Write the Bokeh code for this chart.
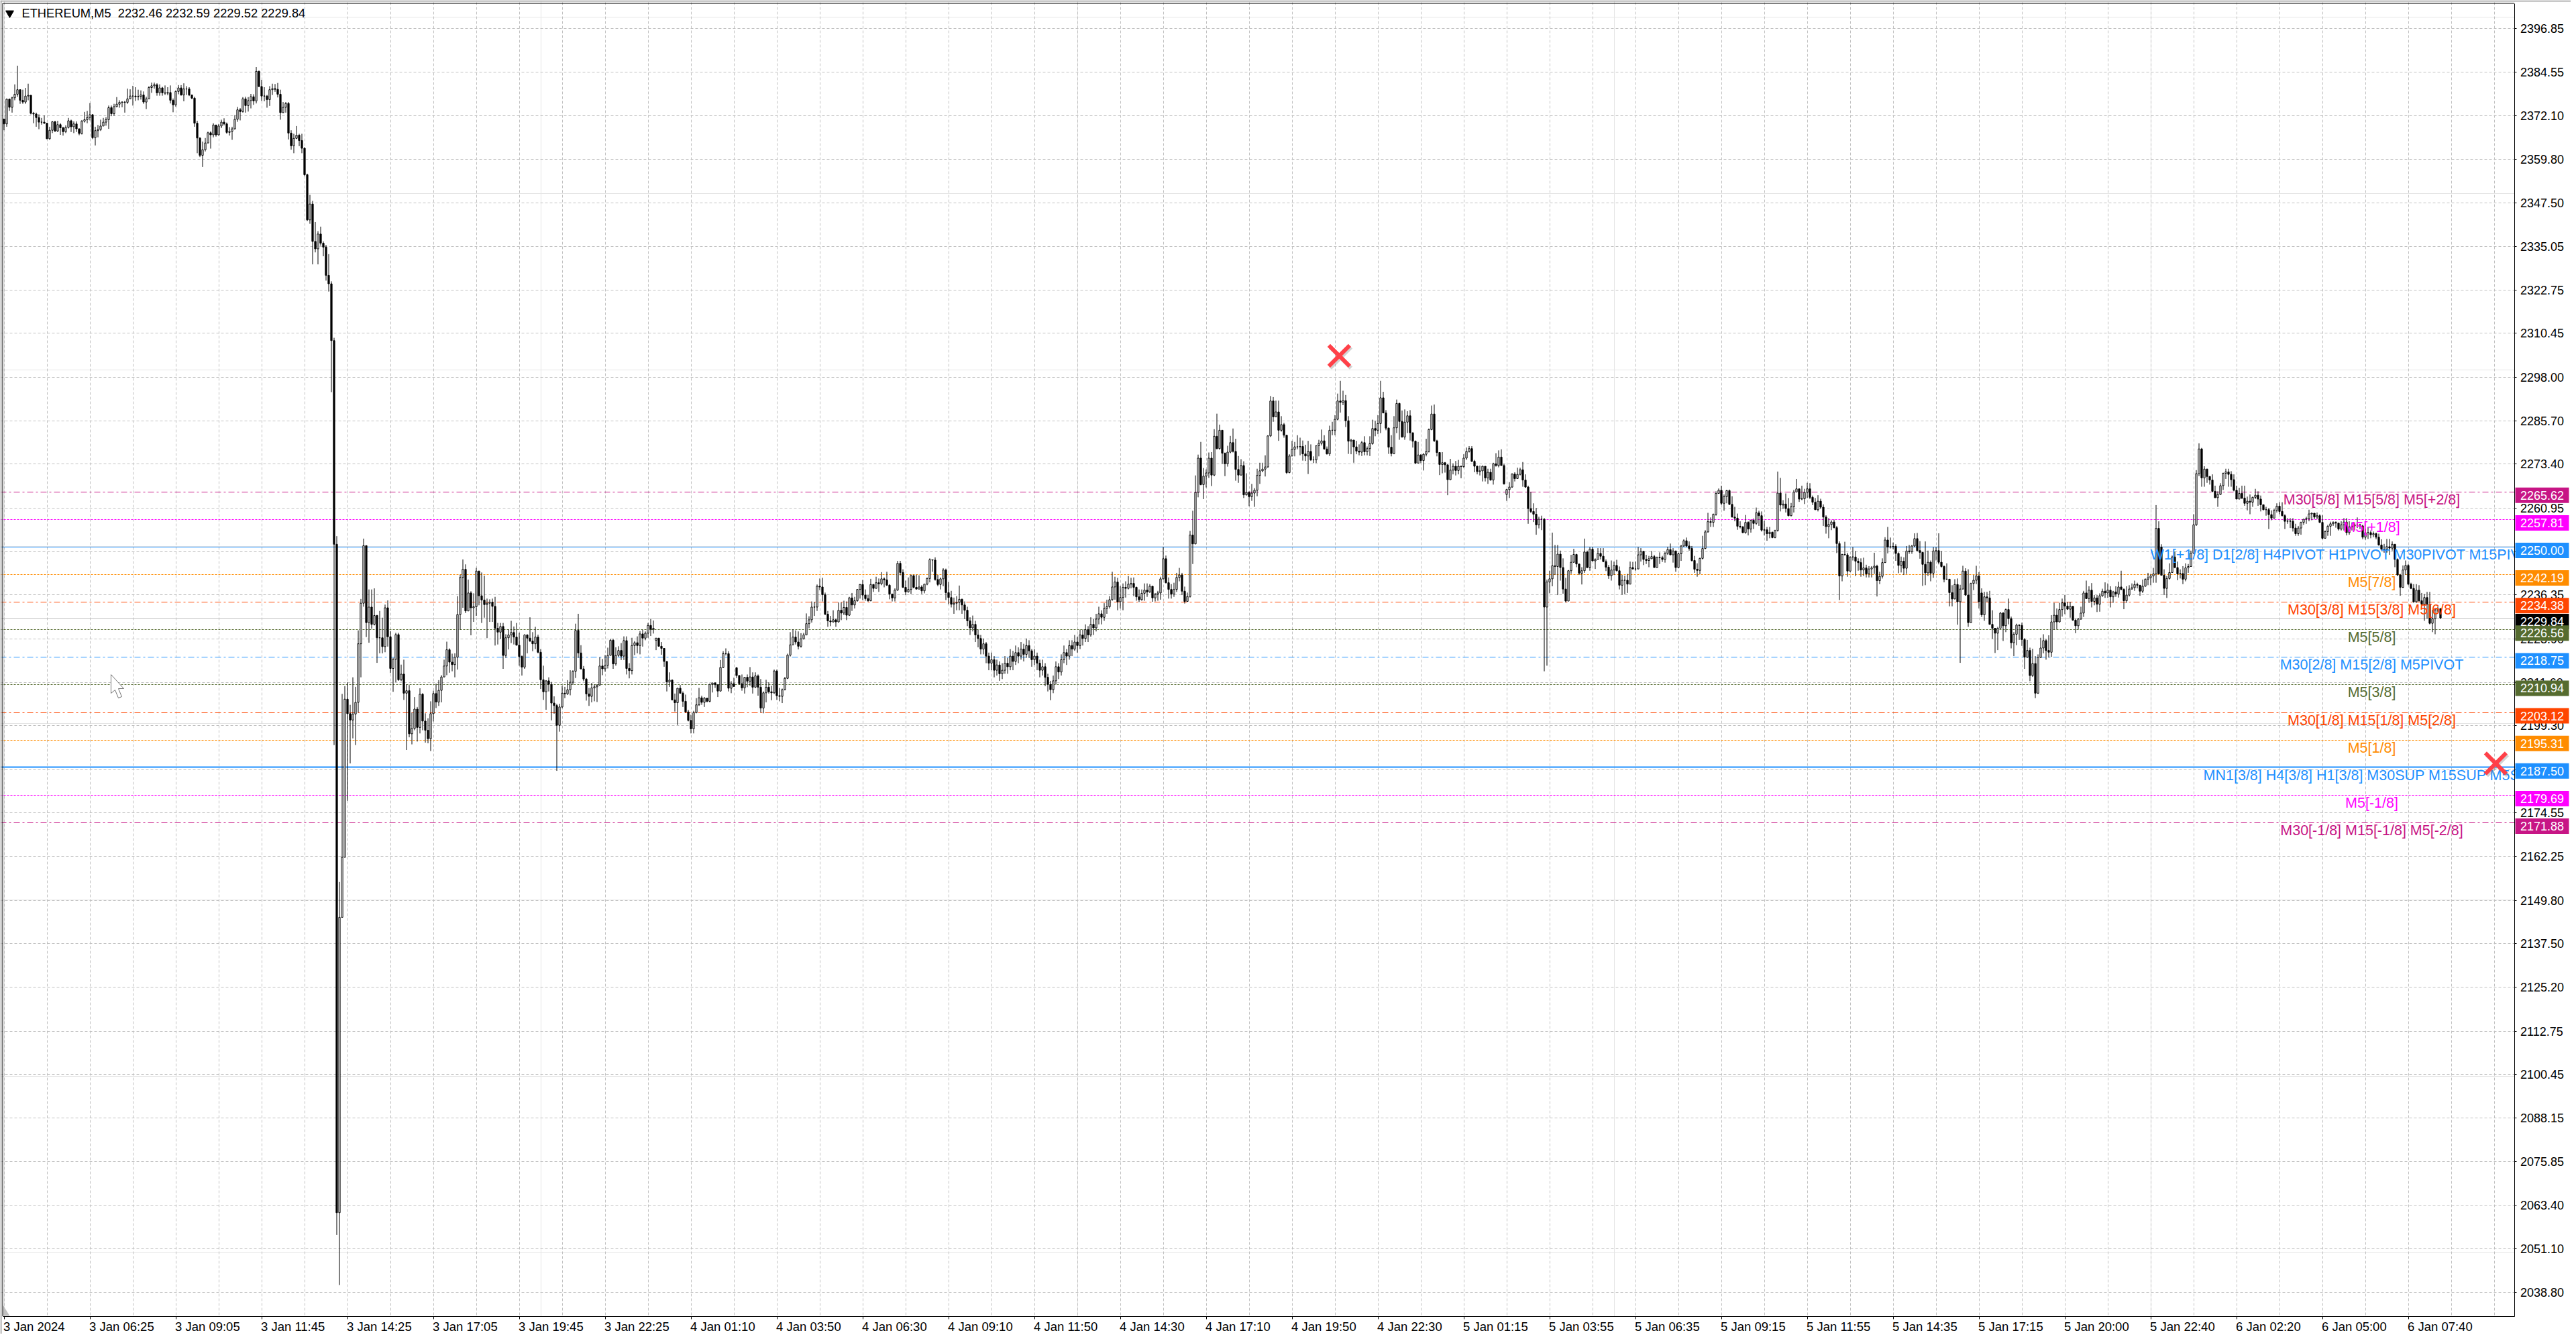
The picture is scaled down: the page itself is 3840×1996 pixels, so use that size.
from bokeh.plotting import figure
from bokeh.models import ColumnDataSource, FixedTicker, Grid, LinearAxis, PrintfTickFormatter, Range1d
from bokeh.core.properties import value
from bokeh.embed import file_html
from bokeh.resources import INLINE
import math

close = [
2369.8,2376.8,2374.5,2377.2,2378.2,2379.5,2376.5,2376,2377.7,2377.9,
2372.8,2372.6,2371.6,2370.3,2370.3,2370,2365.6,2368,2370.4,2367.8,
2369.6,2368.7,2367.6,2368.8,2370.7,2369,2369.8,2368.4,2367.1,2370.6,
2371,2371.6,2372.4,2365.9,2367.9,2368.2,2369.2,2370.3,2371,2374.4,
2372.7,2374.7,2375.4,2375.9,2376,2375.9,2376.9,2377.7,2377.7,2377.5,
2377.6,2378,2376,2376.9,2380.1,2380.6,2380.9,2378.6,2380,2378.6,
2378.5,2378.7,2376.5,2375.2,2379,2380,2378,2379.7,2379.7,2378,
2377.1,2370,2365.8,2360.9,2362.5,2364.4,2367.3,2366.7,2369.5,2366.7,
2369.2,2370.3,2369.8,2367.4,2367.7,2368.4,2371.1,2373.8,2373.3,2376.9,
2375,2376.4,2377.5,2376.3,2384.7,2380.4,2377.7,2377.7,2376.7,2379.5,
2379.8,2379.6,2378.2,2373,2374.5,2375.6,2367.2,2363.6,2365.7,2366.6,
2365.1,2362.9,2355.4,2342.6,2347.1,2336.5,2334.4,2338.6,2336,2334.9,
2326.9,2324.5,2308.4,2250.7,2061.3,2145,2162,2206.8,2202.7,2200.9,
2202.6,2205.9,2222.5,2234,2250.3,2228.5,2232.9,2228,2230.5,2224.2,
2224.2,2221.7,2232.7,2224.5,2215.5,2218.1,2225.1,2212.3,2213.9,2208.5,
2209.2,2197,2198.5,2204,2198.8,2208.2,2200.6,2198,2195.6,2202.7,
2208.4,2206,2209.3,2213.1,2216.2,2220.8,2217.3,2216.6,2218.7,2230.8,
2241.3,2243.6,2231.8,2236.9,2232.7,2233,2243.1,2236.1,2234.9,2233.6,
2234,2234.3,2233.1,2226.9,2225.8,2227.4,2219.2,2224.2,2225,2225.7,
2224.4,2222.1,2218.9,2215.9,2225,2224.1,2223.3,2222.5,2224.4,2220.1,
2212.3,2208.9,2212,2211,2205.7,2205,2199.4,2204.6,2208.5,2208.3,
2209.5,2211.6,2214.7,2226.3,2219.9,2215.4,2212.5,2208.3,2207.6,2210,
2210.3,2210.8,2216.2,2215.4,2216.4,2219.2,2223.5,2216.8,2219.2,2220.6,
2219,2223.4,2215.5,2214.9,2222,2222.8,2222,2225.3,2224.1,2225.5,
2227.7,2226.6,2226.9,2224.1,2221.8,2221.2,2217.5,2211.7,2212.2,2206.6,
2205.8,2209.9,2208.5,2206.2,2203.2,2200.8,2198.4,2203,2205.2,2207.2,
2205.9,2207.1,2206.2,2211,2211.4,2210.9,2209.1,2215.8,2219.7,2219.7,
2209.9,2211.2,2210.4,2213.5,2211.2,2210,2213,2211.9,2213.1,2210.2,
2213.4,2210.2,2204.3,2208.6,2210.2,2208.9,2208.6,2214.8,2207.8,2207.6,
2209.5,2212.7,2219.3,2222.2,2224.4,2223,2221.8,2223.9,2225,2228.2,
2229.3,2232.9,2232.9,2238.8,2238.6,2236.4,2230.9,2229,2228.7,2229.3,
2228.7,2232,2231.2,2232.8,2230.6,2235.5,2233.5,2234.7,2237.9,2239.3,
2236.3,2235.3,2234.7,2239.3,2238.2,2239.8,2239.5,2240.9,2240.6,2239.1,
2236.6,2235.5,2237.7,2245.3,2242.7,2238.5,2237.2,2237.9,2241.8,2238.5,
2238,2238.6,2237.5,2239.4,2241,2246.3,2246.2,2240.7,2239.3,2240.9,
2243.4,2237,2235.6,2233.7,2234,2234.2,2235.1,2233.5,2232,2229,
2227,2228,2225,2224,2221,2222.5,2219,2217,2218,2215,
2216.5,2214,2215,2217,2216,2219,2217.5,2220,2219,2221,
2219.5,2222,2220.5,2218,2219,2217,2215,2216,2213,2211,
2209.5,2212,2216,2214.5,2218,2220,2219,2222,2221,2223,
2222,2225,2224,2226.5,2225,2228,2227,2229.5,2231,2230,
2232.5,2233,2235,2238.6,2240,2234.4,2235.6,2238.5,2238.2,2239.4,
2239.6,2238.5,2235.8,2235,2236.8,2237.7,2237.2,2238.8,2235.5,2236.5,
2236.9,2240.9,2246.6,2239.8,2237.9,2236.6,2237.9,2241.3,2242,2237.4,
2234.5,2235.9,2253.3,2250.8,2265.4,2275.1,2267.6,2270,2270.9,2275.1,
2270.3,2281.3,2277.8,2283,2276.5,2273.5,2276.8,2279.5,2277,2271.9,
2270.3,2273,2264.7,2265.4,2264.2,2265.2,2266,2270.2,2271.5,2272,
2272.6,2281.4,2291.3,2286.8,2288.2,2283,2284.6,2281.6,2271,2275.7,
2277.6,2278.3,2278.3,2278.4,2276.3,2275.7,2277,2274.6,2274.6,2278.6,
2279.3,2280,2277.7,2276.3,2283,2283,2286.1,2291.3,2290.9,2291.4,
2285.7,2279.9,2280.2,2278.3,2277.1,2276.8,2279.5,2276.9,2277.8,2279.2,
2283.5,2283,2284.9,2292.2,2287.9,2283.6,2278.2,2276.4,2283.7,2290.6,
2285.5,2281.1,2285.3,2287.1,2282.3,2279.9,2273.7,2276,2274.4,2276.2,
2277,2283.2,2287.6,2280,2276.7,2273.3,2273.8,2273.2,2269,2271.7,
2272.8,2271.6,2272.8,2272.7,2275.1,2277,2277.8,2274.2,2272.8,2271.3,
2271.5,2272.8,2269.5,2271.1,2268.9,2273.5,2273,2275.4,2273,2267.8,
2266.2,2266.9,2270.6,2269.3,2270.5,2271.8,2268.9,2266.9,2260.8,2260,
2259.2,2256.2,2257.8,2257.8,2232.9,2240,2240.9,2244.6,2244.4,2247.9,
2244.1,2238,2234.6,2243.2,2245.6,2247.8,2245.1,2242.5,2243.2,2248.5,
2244.1,2249.3,2246,2246.4,2248.1,2247.3,2245.8,2244.2,2241.8,2243.4,
2244.7,2243.2,2239.1,2240.5,2240.5,2239.4,2244.1,2243.7,2243.7,2247.7,
2248.7,2246.4,2246.1,2246.6,2247.2,2244.1,2247,2246.9,2246.4,2248.1,
2249.2,2247.7,2248.8,2244.1,2248,2250.2,2251.7,2250.2,2249.5,2246.1,
2243.6,2243.3,2246.7,2249.5,2254.2,2257.1,2256.9,2259.2,2265.1,2266,
2262.3,2264.2,2265.9,2262,2258.4,2258.1,2255.8,2255.6,2254,2256.9,
2255,2257.5,2256.6,2259.6,2258.8,2254.7,2254.8,2253.7,2254.1,2252.6,
2254.6,2265.2,2261.8,2262.1,2260.8,2258.8,2261.3,2265.5,2266.4,2263.5,
2263.6,2265.4,2266.4,2264,2262.6,2260.5,2262.9,2261.2,2258.4,2255.7,
2256.3,2257,2255.4,2250.9,2241.7,2247.8,2247.7,2243.1,2247.1,2247.1,
2245.9,2245.5,2243.4,2244,2242.3,2243.7,2244,2244.5,2240.4,2241.6,
2245.5,2251.9,2249.9,2250,2250.1,2248.1,2244.7,2245.9,2243.9,2248.8,
2248.6,2250.2,2252.3,2248.9,2248.4,2245,2242.6,2245.6,2242.5,2248.8,
2248.9,2245.6,2244.4,2240.8,2240.8,2237,2235.2,2239.3,2234.4,2238,
2243.1,2236.3,2228.5,2239.6,2240.5,2241.7,2234.4,2230.7,2235.8,2235.5,
2228,2226.9,2225.5,2226.9,2231.2,2227.6,2232.2,2229.6,2222.8,2225.2,
2227.8,2227.7,2223.7,2218.7,2220.6,2213.5,2216.9,2208.5,2218.6,2221.3,
2223.4,2220.6,2220.1,2228.7,2230.6,2228.7,2232.2,2234.1,2233.2,2232.3,
2233.1,2229.2,2227.6,2229.5,2231.2,2236.9,2235.3,2237.7,2234.5,2235.5,
2233.7,2236.1,2237.4,2236.9,2237.7,2235.8,2237.2,2236.6,2238.6,2237.9,
2234.7,2236.3,2238,2238.4,2239.3,2239.1,2237.4,2238.8,2240.8,2241.2,
2241.7,2242.3,2255.2,2242.3,2241.9,2238.2,2241,2242.7,2247.1,2244.1,
2242.3,2242.4,2240.8,2244,2244.4,2248.2,2256.2,2270.7,2277.7,2269.5,
2272,2269.9,2268.9,2265.7,2263.9,2264.8,2267.3,2270.8,2271.2,2270.5,
2269,2266,2263.5,2265.1,2263.8,2262.3,2262.9,2262.6,2264,2264.6,
2263.5,2261.9,2260.5,2260.5,2259.1,2258.1,2260.3,2261.5,2260,2258.8,
2257.2,2257.3,2257.2,2255.3,2253.7,2255.3,2256.9,2257.8,2258,2259.3,
2259.5,2258.4,2258.8,2256.9,2252.4,2254.3,2255.8,2256.5,2256.9,2256.7,
2255,2256.2,2257,2254,2255.6,2255.9,2256.2,2256.2,2255.9,2252.7,
2254,2254,2253.4,2253.7,2252.7,2250.5,2249.3,2249.3,2250,2249.6,
2250.7,2246.4,2242,2238.5,2243.4,2244.7,2239.4,2238.2,2234.4,2237.7,
2234.7,2233.7,2235.6,2233.7,2228.3,2229.6,2232.1,2232.46,2229.84,
]

high = [
2371,2377,2377,2377.5,2381,2386.3,2379.5,2379.5,2380,2381.2,
2378,2373.2,2373,2372.5,2371.5,2372.2,2370,2369,2370.6,2370.7,
2370.7,2370,2369,2369.4,2371.5,2371,2370.5,2370.5,2368.5,2370.9,
2373.2,2373.5,2375.7,2372.6,2369,2369.5,2371,2371.5,2371.7,2375,
2375,2375.5,2377.4,2376.5,2376.2,2376.3,2379.8,2379.6,2380.6,2380.2,
2379.5,2379.3,2379,2377.5,2380.5,2381.5,2381.5,2381.3,2381,2380.3,
2380.7,2380.2,2380.7,2377,2379.3,2380.8,2380.8,2381.3,2380.5,2380.2,
2378,2377.5,2370.7,2366,2364.8,2365.8,2367.6,2367.7,2370,2369.5,
2369.8,2371,2371.4,2370.2,2368.9,2369,2372.3,2374.6,2374.3,2377.4,
2377.5,2377.4,2378.3,2378.2,2385.9,2384.9,2382.3,2380.2,2378,2380.5,
2381.2,2381.1,2381.4,2379.5,2376,2376,2376,2368,2367,2369.2,
2367,2367,2363.2,2355.7,2349.7,2348,2342,2339.4,2340.7,2336.5,
2335.5,2332.9,2325.2,2309.2,2253,2155,2208.3,2210.5,2211.6,2205.2,
2213,2210.3,2226.3,2235.2,2252.3,2250.4,2237.9,2237.9,2238.2,2230.7,
2231.8,2229.9,2233.6,2234.8,2226.1,2218.5,2225.6,2225.6,2216.6,2218,
2211,2210.8,2203,2207.4,2204.6,2209.9,2208.5,2202.8,2201.4,2206.2,
2209.2,2211.2,2212.2,2213.6,2218,2223.1,2221.2,2219.7,2219.8,2236,
2242.1,2246.4,2245,2240.7,2237.4,2236.8,2244,2243.2,2242.7,2241.8,
2235.3,2235.1,2235.3,2235.8,2228.4,2228.4,2228.4,2225.2,2226.6,2229,
2227.4,2228.4,2225.6,2219.2,2225.2,2225.2,2230,2225.8,2227.3,2225.1,
2221,2216.3,2212.2,2213,2211.7,2207.6,2205.5,2205.5,2210.6,2210.3,
2212.2,2215,2215,2228.2,2231,2222.1,2216.2,2212.8,2210,2211.4,
2211,2211,2218.7,2218.2,2219.3,2221.4,2223.9,2223.9,2221.5,2221.8,
2222.7,2224.6,2224.6,2217,2224.2,2223.3,2224.6,2226.1,2226.5,2226,
2228.4,2229.5,2229.1,2224.1,2224.1,2223,2221.2,2217.4,2214.4,2212.4,
2208.4,2210,2210.8,2209,2208.1,2203.8,2202.4,2203.5,2207.1,2210,
2207.8,2207.4,2207.1,2211.2,2211.4,2211.6,2210.9,2217.9,2220.4,2221.2,
2220.4,2211.9,2212.9,2215.9,2213.6,2213.8,2213.1,2213.8,2215.9,2214.4,
2214.4,2213.8,2212.5,2209,2212.3,2211.6,2210.6,2215.2,2215.2,2210,
2209.8,2213.1,2219.7,2225.8,2226.6,2226.3,2226,2225.5,2225.6,2231.1,
2230.3,2234.5,2234.4,2239.3,2241,2241.2,2237,2231.8,2230.4,2232,
2229.6,2234.2,2234.2,2234.7,2234.5,2235.8,2236.9,2235.8,2237.9,2239.4,
2240.6,2237.9,2236.4,2240.9,2239.4,2241.5,2241,2242.8,2241.3,2242.9,
2239.4,2236.7,2238.2,2246,2246,2243.6,2240.4,2241.3,2242.1,2242.1,
2242.1,2241.9,2239.1,2239.4,2241.3,2246.7,2246.3,2247,2242,2241.3,
2243.9,2243.8,2240,2237.5,2235.6,2236,2239,2235.3,2234.5,2233,
2230,2230.5,2229,2226.5,2225,2224,2223,2220,2220,2219,
2218,2217.5,2217,2219,2218.5,2221,2220.5,2222,2221.5,2223,
2222.5,2224,2223.5,2221,2221,2220,2218,2218,2217,2214,
2212,2213.5,2217.5,2217,2219.5,2222,2221,2223.5,2223.5,2225,
2224.5,2226.5,2226.5,2228,2227.5,2230,2229.5,2231,2233,2232,
2234,2235,2236,2242.9,2241.5,2241.2,2238.8,2239.6,2240.2,2241.7,
2241.2,2241.3,2238.7,2237.9,2237.9,2239.6,2239.6,2239.4,2238.9,2236.9,
2237.5,2241.5,2249.9,2247.5,2241.3,2239.4,2239.8,2242.6,2244,2242.6,
2238.7,2237,2254.5,2260.2,2270.2,2276.1,2279.7,2272.3,2271.9,2276.7,
2276.8,2283.3,2287.7,2284.6,2283,2276.7,2278.6,2281.4,2283.5,2280.6,
2275.7,2274.8,2274.2,2270.8,2265.7,2267.8,2266.6,2272.1,2273.8,2273.8,
2275.9,2281.6,2292.7,2292.4,2291.4,2291.4,2287,2285.1,2281.6,2276.2,
2280,2279.7,2281.6,2280.9,2280.1,2278.9,2280,2279,2275.6,2278.7,
2280.3,2283.2,2281.6,2278.4,2284.3,2285.4,2287.3,2293.4,2297,2294.2,
2293,2287,2280.6,2280.3,2280,2279,2280,2281.3,2278.4,2281.3,
2286,2285.7,2287.3,2297,2293.9,2288.7,2283.8,2281.6,2287,2291.7,
2290.8,2288.6,2288.9,2288.4,2288.7,2282.2,2280.1,2279.7,2276.2,2276.5,
2280.6,2283.5,2290,2290.3,2280.3,2276.8,2276.8,2274,2273.3,2274.9,
2273.6,2274.3,2274.6,2273,2276.2,2278.1,2278.5,2278.5,2274.6,2273,
2273,2273,2272.8,2272.1,2272.1,2273.8,2276.5,2277.3,2277.6,2273.5,
2266.4,2268.3,2270.8,2271.1,2272.4,2272.4,2274,2270.5,2267.3,2265.5,
2262.3,2261,2258.5,2258.8,2258.1,2240.7,2243.2,2254,2250.5,2250.5,
2248.9,2246.7,2241.2,2243.4,2247.7,2249.4,2248,2245.1,2244.2,2252.3,
2248.9,2249.9,2249.9,2246.7,2249.6,2249.6,2249.6,2246.4,2244.8,2246.1,
2245.8,2246.3,2244.4,2242,2241.8,2242.3,2245.8,2245.7,2245.8,2249.9,
2249.6,2248.8,2247.7,2247.4,2248.8,2247.7,2247.2,2248.4,2247.4,2248.6,
2250,2250.9,2249.6,2248.9,2248.3,2250.5,2252.1,2252.6,2251.5,2250.2,
2247.4,2245.3,2246.9,2253.1,2254.7,2259.6,2258.3,2259.4,2265.7,2266.5,
2267.3,2264.8,2266.1,2266.2,2264.3,2261.3,2259.4,2257.2,2255.9,2259,
2257.2,2257.7,2258,2261.1,2260.2,2260,2257.3,2255.6,2255.6,2254.3,
2254.8,2271.3,2269.5,2263.2,2265.1,2263.8,2262.4,2266.1,2269.2,2266.4,
2267.3,2266.4,2268.1,2268,2264.5,2263.8,2264.6,2263.6,2262,2258.9,
2258.1,2257.5,2257.7,2255.9,2251.5,2248,2251.4,2248.3,2247.2,2249.9,
2248.8,2246.7,2246.7,2246.9,2244.9,2244.5,2244.5,2248.3,2244.9,2242.9,
2246.7,2252.7,2255.6,2252.6,2251.2,2250.7,2248.4,2247.2,2247,2250.2,
2250.5,2250.5,2253.8,2253.9,2251.6,2248.4,2251.5,2248.9,2246.1,2249.9,
2249.9,2253.8,2248.8,2244.7,2245.3,2240.7,2239.1,2240.8,2241,2239.2,
2244.6,2243.9,2243.6,2239.8,2242,2244.6,2242.8,2238.2,2237.2,2237.2,
2237.5,2232,2226.8,2227.3,2231.5,2231.5,2232.5,2235.3,2230.2,2225.8,
2228.2,2228,2228.5,2224.1,2223.6,2221.4,2221.1,2219,2219.5,2224.2,
2225.2,2223.9,2224.9,2230.6,2234.1,2232.5,2234.1,2235.3,2236.3,2234.4,
2234.4,2233.2,2229.6,2229.8,2233,2237.5,2240.4,2238.8,2239.7,2236.3,
2236.3,2236.8,2238.1,2239.9,2239.6,2238.8,2237.5,2238.8,2240.1,2243.2,
2238.2,2238.8,2239.1,2239.6,2240.4,2239.8,2239.1,2240.7,2241,2242.6,
2242.3,2244,2261.8,2257.2,2250.7,2243.6,2241.7,2245.3,2247.5,2248.6,
2245.8,2243.6,2244.5,2245.3,2245.1,2248.9,2259.2,2271.7,2279.3,2278,
2272.8,2272.1,2270,2270.5,2267.3,2265.7,2268,2271,2272.1,2272.1,
2271.4,2270.5,2267.3,2266.7,2267.3,2267.3,2264.2,2264.8,2264.2,2266.4,
2265.7,2264.5,2261.9,2261.3,2261,2260.3,2260.7,2262.3,2262.6,2262.6,
2259.2,2258.1,2258.1,2258.1,2256.5,2255.9,2257.1,2257.5,2258.5,2260.5,
2259.7,2259.4,2259.7,2259.2,2258.9,2254.6,2256.2,2257.1,2257.2,2257.2,
2256.7,2257.2,2258.1,2258.1,2257.2,2256.9,2256.9,2258.3,2256.5,2256.2,
2255,2255.6,2254.6,2254.3,2254,2253.7,2252.1,2250.8,2252.2,2252.2,
2251.5,2250.2,2246.7,2242.3,2244.7,2246.1,2245.1,2239.8,2239.4,2239.4,
2239.1,2236.9,2236.6,2237.2,2237.2,2232.1,2232.5,2233,2232.59,
]

low = [
2368,2369,2373.5,2373,2376.5,2377.5,2375.5,2375.5,2375.5,2376.5,
2372.5,2370,2369,2368.3,2369.6,2369.8,2365.5,2365.3,2367.2,2367.5,
2367.5,2366.7,2366.5,2367.2,2368.5,2367.5,2367.2,2367.5,2366.6,2366.8,
2370.2,2370,2370.8,2365.5,2363.7,2366,2367.8,2369.2,2369.3,2368.4,
2372,2372.1,2374.5,2374.4,2374.5,2373,2375.5,2376.8,2375,2376.3,
2376.5,2376.7,2375.5,2374,2376.8,2378.6,2379.8,2377.8,2377.8,2377.8,
2378,2377.9,2375.6,2373.1,2374.7,2378.2,2377.8,2376.2,2378,2377.7,
2376.8,2369,2361.5,2360.4,2357.6,2362,2364.4,2362.8,2366,2366.2,
2366.5,2368.6,2369.4,2367,2366.5,2365.3,2368.2,2370.4,2370.8,2373,
2373,2373.3,2374.2,2375.2,2375.6,2380.2,2376.3,2376.2,2374.4,2374.9,
2378,2378.9,2377.3,2371,2372.9,2373,2365.4,2362.5,2361.5,2365.5,
2363.5,2361.5,2355,2342.3,2341.5,2330,2333.4,2330,2335.3,2332.3,
2325.4,2322.3,2293.8,2193.8,2055,2040.8,2158,2163,2178,2188.6,
2195.7,2193.8,2203,2213,2233,2224.4,2222.8,2226.8,2227.7,2217.1,
2219.8,2219.8,2220.1,2221.7,2214.2,2208.9,2211.6,2212,2211.9,2206.6,
2192.4,2196,2194,2198,2194.8,2197.1,2198,2194.5,2194.3,2192.1,
2200.5,2204.3,2204.9,2205.9,2213.6,2213.6,2214.3,2214.7,2213,2215.2,
2226.5,2232.7,2231.2,2231.8,2224.9,2228.7,2230.4,2233.4,2228.4,2229.9,
2224.1,2228.7,2228.7,2222,2222.3,2223.9,2215.4,2218.5,2220.9,2222.7,
2222.3,2222,2216.3,2213.5,2215.4,2219.8,2223,2220.4,2221,2219.8,
2209.7,2206.6,2203.8,2209,2200.8,2202.7,2186.5,2197.6,2204.3,2207.1,
2208,2207.9,2210.9,2212.8,2218.5,2215.2,2211.9,2206.4,2204.9,2205.9,
2206.2,2206,2210.6,2213.6,2214.6,2215.5,2219.2,2215.4,2216.3,2218.8,
2217.9,2217.9,2213.8,2212.7,2213.8,2219.3,2219.8,2219.5,2221.7,2223.5,
2224.2,2224.7,2225.4,2220.7,2221.7,2219.4,2216,2209,2210.3,2206.6,
2203.3,2199.5,2208.4,2204.6,2203,2200.5,2197.1,2197.1,2202.8,2204.9,
2205.2,2204.6,2205.9,2205.9,2208.7,2210,2207.4,2209,2215.6,2219.2,
2209,2208.5,2210.4,2212.8,2210.9,2209.2,2208.4,2210.2,2210.6,2208.4,
2210,2207.8,2203,2202.8,2205.9,2208.4,2206.5,2208.3,2206.6,2206.2,
2205.7,2209.3,2212.5,2218.9,2222.2,2222.3,2220.9,2221.4,2223.7,2224.9,
2226.9,2228.5,2230.4,2231.8,2237.7,2234.5,2230.6,2227.3,2227.5,2228.5,
2227.3,2228.5,2229.2,2230.6,2229.2,2230.4,2231.8,2232.5,2234.4,2235.3,
2234.9,2234.7,2234.4,2234.5,2237.2,2238.2,2237.2,2239.1,2238.5,2238.9,
2235.1,2234.5,2234.5,2237.5,2241.9,2238.3,2236.3,2237,2236.6,2238.2,
2237.9,2237.9,2236.6,2236.8,2239.1,2239.9,2242.9,2240.4,2238.8,2237.9,
2238.8,2234.9,2233.7,2232.8,2231,2232,2232,2231,2229.5,2227.5,
2225,2226,2223,2221.5,2219.5,2219.5,2217,2215,2215,2213,
2213.5,2212,2212.5,2214,2214,2215,2215,2216.5,2217,2218,
2217.5,2218.5,2218.5,2216,2216.5,2215,2213,2213.5,2210.5,2209,
2206.5,2208.5,2211,2212.5,2213.5,2217,2216.5,2218,2219,2220.5,
2220,2221,2222,2223,2223,2224.5,2225,2226,2228,2228,
2229,2231,2232.5,2234.7,2235,2232,2232.5,2232,2235.6,2237.9,
2238.2,2236,2234.7,2234.3,2234.7,2234.7,2235.8,2236.9,2234.4,2234.5,
2234.7,2235,2240.7,2239.6,2235.3,2235.3,2235.8,2237.2,2240.2,2236.3,
2233.9,2234.4,2235.6,2245.1,2250.7,2264,2267.4,2263.5,2266.8,2269.5,
2267.2,2270,2277.6,2277.5,2273.5,2270,2272.7,2276.5,2276.7,2268.7,
2268.1,2270.2,2263.8,2264.5,2261.5,2263,2261.3,2264.3,2267.8,2271.1,
2269.9,2272.4,2281.1,2285.4,2286.8,2280,2282.6,2280.9,2270.6,2270.8,
2275.6,2275.6,2277.6,2275.9,2274.4,2274.3,2270.6,2274.3,2273.7,2273.7,
2275.6,2278.7,2277.5,2276.1,2275.7,2281.6,2281.6,2285.8,2288,2290.1,
2283.9,2276.3,2276.2,2273.8,2276.2,2275.9,2275.7,2275.9,2275.9,2275.7,
2278.9,2281.3,2281.9,2282.2,2287.9,2283,2276.3,2275.6,2276.2,2282.2,
2280.3,2280.9,2280.3,2282.2,2280.1,2278.1,2273.5,2273.7,2273.7,2271.6,
2275.6,2276.7,2283,2279.7,2275.6,2270.3,2270.8,2271,2264.6,2268.9,
2270.5,2270.2,2270.5,2269.4,2272.3,2274.6,2276.7,2274,2271.1,2270.5,
2270.2,2268.5,2268.5,2267.8,2268.7,2267.6,2272.7,2272.5,2273,2267.6,
2263,2263.8,2266.7,2268.5,2269.2,2270.2,2267,2266.7,2256.5,2259.5,
2257,2253.4,2255.2,2254.7,2214.7,2216.3,2236.8,2238.8,2242,2236.3,
2240.4,2236.7,2234.2,2234.6,2242.3,2245.5,2244.2,2242,2239.3,2242.6,
2243.9,2243.2,2245.8,2243.7,2246.4,2246.4,2245.6,2243.1,2240.9,2240.4,
2242,2243,2237.9,2236.4,2236.5,2236.9,2239.8,2243.6,2243.2,2243.7,
2245.8,2244.8,2245.1,2244.2,2246.5,2244.1,2244.1,2245.1,2245.7,2245.5,
2247.7,2247.6,2245.5,2242.9,2243.9,2246,2250,2249.9,2248.9,2245.8,
2242.6,2241.5,2242.2,2246.4,2249.3,2254,2255.6,2255.6,2258.8,2265.1,
2261.8,2260.2,2262.3,2261.8,2258.3,2257.2,2254.8,2255.2,2253.8,2253.7,
2253.2,2254,2255,2256.2,2255.9,2254.3,2253.2,2251.7,2252.4,2252.4,
2252.4,2254.3,2260,2260.7,2259.7,2258.6,2258.6,2259.7,2265.4,2262.7,
2263.2,2262.1,2263.8,2263.5,2261.8,2260.4,2260,2260.7,2255.9,2253.7,
2252.4,2254.7,2255.2,2248.2,2234.9,2240.2,2247.5,2241.5,2242.9,2246.1,
2241.7,2243.2,2241.5,2241.7,2241.3,2241.3,2241.3,2242.3,2235.9,2239.4,
2241,2245.5,2248.1,2249.5,2249.3,2246,2242.5,2242.7,2242,2242.3,
2248,2248,2249.9,2248.8,2246.6,2238.9,2239.1,2241.7,2240.2,2241.2,
2246.1,2245,2244.1,2239.9,2240.6,2233.1,2233.1,2235.1,2227.9,2217.1,
2238.1,2236.1,2227.3,2228.5,2237.7,2239.4,2232.5,2230.1,2229,2234.4,
2227.9,2223.9,2219.9,2220.7,2226.8,2223.3,2225.8,2228,2221.2,2219,
2222.1,2223.6,2221.9,2215.4,2218.5,2211.9,2213.1,2207.1,2208.3,2218.5,
2219.8,2218,2218.6,2218.8,2226.5,2226.6,2228.5,2230.2,2230.9,2232.1,
2229.9,2229,2225.5,2226.6,2229.3,2230.1,2235.2,2234.1,2232.8,2233.4,
2231.5,2231.6,2235.8,2235.5,2235.5,2232.8,2234.1,2235.8,2235.6,2237.7,
2232.3,2234.1,2235.9,2237.9,2237.5,2238.2,2236.1,2236.9,2238.7,2239.1,
2239.1,2239.8,2239.8,2242.1,2241.9,2236.3,2235.5,2240.7,2242.6,2243.9,
2240.5,2241,2239.4,2240.2,2242.6,2244.4,2248,2255.9,2270,2267,
2267,2268.1,2267.6,2265.4,2263.8,2261.3,2264.7,2266.1,2269.2,2267,
2267,2265.7,2263.5,2263.5,2263.5,2261.6,2260.3,2259.2,2261.3,2263.5,
2261.6,2260,2260.3,2258.8,2255,2257.5,2258.1,2259.7,2259.2,2258.6,
2255,2256.5,2255.3,2254.3,2253.1,2253.1,2253.4,2256.2,2256.5,2257.2,
2257.5,2257.8,2257.8,2256.7,2252.1,2252.4,2253.1,2253.1,2255.9,2255.4,
2254.6,2254.6,2254.6,2253.2,2253.4,2254.6,2254.6,2255.3,2255,2252.1,
2252,2252.2,2252.4,2252.7,2252.1,2250.3,2248.9,2248.3,2248.3,2247.7,
2248.9,2244.2,2241.7,2236.1,2238.3,2242,2239.1,2238,2234.1,2234.1,
2234.4,2233.7,2229,2229.6,2228,2225.8,2225.2,2231.5,2229.52,
]

# Bars whose open does not sit on the previous close (visible gaps)
open_gaps = {0: 2371.2, 243: 2223.5, 273: 2215.7, 560: 2264.8, 737: 2236.9, 804: 2249.9, 908: 2232.46}

price_ticks = [2396.85, 2384.55, 2372.10, 2359.80, 2347.50, 2335.05, 2322.75, 2310.45, 2298.00, 2285.70,
               2273.40, 2260.95, 2248.65, 2236.35, 2223.90, 2211.60, 2199.30, 2186.85, 2174.55, 2162.25,
               2149.80, 2137.50, 2125.20, 2112.75, 2100.45, 2088.15, 2075.85, 2063.40, 2051.10, 2038.80]
time_labels = ["3 Jan 2024", "3 Jan 06:25", "3 Jan 09:05", "3 Jan 11:45", "3 Jan 14:25", "3 Jan 17:05", "3 Jan 19:45",
               "3 Jan 22:25", "4 Jan 01:10", "4 Jan 03:50", "4 Jan 06:30", "4 Jan 09:10", "4 Jan 11:50", "4 Jan 14:30",
               "4 Jan 17:10", "4 Jan 19:50", "4 Jan 22:30", "5 Jan 01:15", "5 Jan 03:55", "5 Jan 06:35", "5 Jan 09:15",
               "5 Jan 11:55", "5 Jan 14:35", "5 Jan 17:15", "5 Jan 20:00", "5 Jan 22:40", "6 Jan 02:20", "6 Jan 05:00",
               "6 Jan 07:40"]
time_positions = [32 * k for k in range(len(time_labels))]
level_prices = [2265.62, 2257.81, 2250.00, 2242.19, 2234.38, 2226.56, 2218.75, 2210.94, 2203.12, 2195.31, 2187.50, 2179.69, 2171.88]
level_names = ["M30[5/8] M15[5/8] M5[+2/8]", "M5[+1/8]", "W1[+1/8] D1[2/8] H4PIVOT H1PIVOT M30PIVOT M15PIVOT M5[8/8]",
               "M5[7/8]", "M30[3/8] M15[3/8] M5[6/8]", "M5[5/8]", "M30[2/8] M15[2/8] M5PIVOT", "M5[3/8]",
               "M30[1/8] M15[1/8] M5[2/8]", "M5[1/8]", "MN1[3/8] H4[3/8] H1[3/8] M30SUP M15SUP M5SUP", "M5[-1/8]",
               "M30[-1/8] M15[-1/8] M5[-2/8]"]
level_colors = ["#C71585", "#FF00FF", "#1E90FF", "#FF8C00", "#FF4500", "#556B2F", "#1E90FF", "#556B2F", "#FF4500", "#FF8C00",
                "#1E90FF", "#FF00FF", "#C71585"]
DASHDOT, DOT = "9 4 3 4", "3 2"
level_dashes = [DASHDOT, DOT, "solid", DOT, DASHDOT, DOT, DASHDOT, DOT, DASHDOT, DOT, "solid", DOT, DASHDOT]
level_widths = [1, 1, 1, 1, 1, 1, 1, 1, 1, 1, 2, 1, 1]
last_price = 2229.84
title_text = "ETHEREUM,M5\u00a0\u00a02232.46 2232.59 2229.52 2229.84"
cross_bar = [497.6, 928.6]
cross_price = [2304.1, 2188.6]

W, H = 3832, 1988
PX_PER_BAR, X0 = 4.0, 5.5
PX_PER_UNIT, Y_REF, PRICE_REF = 5.261, 1143.3, 2187.5
RIGHT, BOTTOM = 3747.5, 1961.5
def bar_at(px): return (px - X0) / PX_PER_BAR
def price_at(py): return PRICE_REF + (Y_REF - py) / PX_PER_UNIT
def px_of(price): return Y_REF - (price - PRICE_REF) * PX_PER_UNIT
def snapped(price, odd=True):
    return price_at(math.floor(px_of(price)) + (0.5 if odd else 0.0))

FONT = "Liberation Sans"
p = figure(width=W, height=H, output_backend="svg", toolbar_location=None, x_axis_location=None, y_axis_location=None,
           x_range=Range1d(bar_at(0), bar_at(W)), y_range=Range1d(price_at(H), price_at(0)),
           min_border=0, background_fill_color="white", border_fill_color="white", outline_line_color=None)

for dim, ticks in ((0, list(range(0, 936, 16))), (1, price_ticks)):
    p.add_layout(Grid(dimension=dim, ticker=FixedTicker(ticks=ticks), grid_line_color="#c0c0c0", grid_line_dash="4 3",
                      grid_line_width=1, level="underlay"))

p.hspan(y=[snapped(last_price)], line_color="#c0c0c0", line_width=1)
for y, c, d, w in zip(level_prices, level_colors, level_dashes, level_widths):
    p.hspan(y=[snapped(y, w == 1)], line_color=c, line_width=w, line_dash=d)

n = min(len(close), len(high), len(low))
opens = [open_gaps.get(i, close[i - 1] if i else close[0]) for i in range(n)]
idx = list(range(n))
tops = [max(opens[i], close[i]) for i in idx]
bots = [min(opens[i], close[i]) for i in idx]
p.segment(idx, [max(high[i], tops[i]) for i in idx], idx, [min(low[i], bots[i]) for i in idx], line_color="black", line_width=1)
up = [i for i in idx if close[i] >= opens[i]]
dn = [i for i in idx if close[i] < opens[i]]
p.vbar(x=up, top=[tops[i] for i in up], bottom=[bots[i] for i in up], width=0.55, fill_color="white", line_color="black", line_width=1)
p.vbar(x=dn, top=[tops[i] for i in dn], bottom=[bots[i] for i in dn], width=0.55, fill_color="black", line_color="black", line_width=1)

p.text(x=[bar_at(3535)] * len(level_prices), y=level_prices, text=level_names, text_color=level_colors,
       text_font=value(FONT), text_font_size="21.5px", text_align="center", text_baseline="middle", y_offset=12)

shadow_x = [x + 0.5 for x in cross_bar]
shadow_y = [y - 0.5 for y in cross_price]
p.scatter(x=shadow_x, y=shadow_y, marker="x", size=44, line_color="#808080", line_alpha=0.35, line_width=6)
p.scatter(x=cross_bar, y=cross_price, marker="x", size=44, line_color="#FF4048", line_width=6)

p.patch([bar_at(v) for v in (165, 165, 171, 176, 181, 176, 184)], [price_at(v) for v in (1005, 1033, 1028, 1040, 1038, 1026, 1026)],
        fill_color="white", line_color="#707070", line_width=1)
p.patch([bar_at(v) for v in (4, 4, 14)], [price_at(v) for v in (1945, 1961, 1961)], fill_color="#c0c0c0", line_color=None)

# White margins hide whatever passes beyond the price and time axes
p.quad(left=[bar_at(RIGHT)], right=[bar_at(W)], top=[price_at(0)], bottom=[price_at(H)], fill_color="white", line_color=None)
p.quad(left=[bar_at(0)], right=[bar_at(W)], top=[price_at(BOTTOM)], bottom=[price_at(H)], fill_color="white", line_color=None)
# Window frame
p.quad(left=[bar_at(0)], right=[bar_at(2)], top=[price_at(0)], bottom=[price_at(H)], fill_color="#a8a8a8", line_color=None)
p.quad(left=[bar_at(0)], right=[bar_at(W)], top=[price_at(0)], bottom=[price_at(2)], fill_color="#a8a8a8", line_color=None)
p.segment([bar_at(3.5)], [price_at(4.5)], [bar_at(3.5)], [price_at(BOTTOM)], line_color="black", line_width=1)
p.segment([bar_at(3.5)], [price_at(4.5)], [bar_at(RIGHT)], [price_at(4.5)], line_color="black", line_width=1)

yax = LinearAxis(fixed_location=bar_at(RIGHT), ticker=FixedTicker(ticks=price_ticks), formatter=PrintfTickFormatter(format="%.2f"),
                 bounds=(price_at(BOTTOM), price_at(4.5)), major_label_text_font=FONT, major_label_text_font_size="18px",
                 major_label_text_color="black", major_label_standoff=6, major_tick_in=0, major_tick_out=3,
                 minor_tick_line_color=None, axis_line_color="black")
p.add_layout(yax, "right")
xax = LinearAxis(fixed_location=price_at(BOTTOM), ticker=FixedTicker(ticks=time_positions),
                 major_label_overrides={t: "" for t in time_positions}, bounds=(bar_at(3.5), bar_at(RIGHT)),
                 major_tick_in=0, major_tick_out=4, minor_tick_line_color=None, axis_line_color="black")
p.add_layout(xax, "below")

src = ColumnDataSource(dict(x=time_positions, y=[price_at(1977)] * len(time_positions), t=time_labels))
p.text(x="x", y="y", text="t", source=src, text_font=value(FONT), text_font_size="18.5px", text_color="black",
       text_align="left", text_baseline="middle", x_offset=-1)

tag_prices = [last_price] + level_prices
tag_colors = ["black"] + level_colors
p.quad(left=[bar_at(3749)] * 14, right=[bar_at(3829)] * 14, top=[price_at(px_of(v) - 6) for v in tag_prices],
       bottom=[price_at(px_of(v) + 17) for v in tag_prices], fill_color=tag_colors, line_color=None, level="annotation")
p.text(x=[bar_at(3789)] * 14, y=[price_at(px_of(v) + 5.5) for v in tag_prices], text=[f"{v:.2f}" for v in tag_prices], text_color="white",
       text_font=value(FONT), text_font_size="18px", text_align="center", text_baseline="middle", level="annotation")

p.text(x=[bar_at(32)], y=[price_at(19)], text=[title_text], text_font=value(FONT), text_font_size="18.3px", text_color="black",
       text_align="left", text_baseline="middle")
p.scatter(x=[bar_at(14)], y=[price_at(19)], marker="inverted_triangle", size=12, fill_color="black", line_color="black")

open("out.html", "w").write(file_html(p, INLINE))
